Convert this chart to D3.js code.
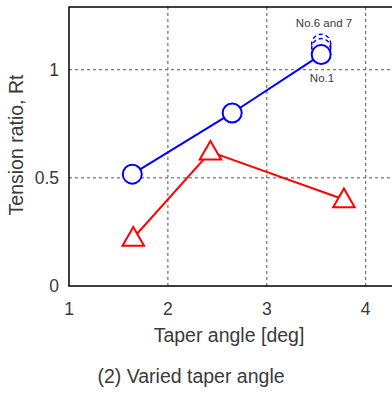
<!DOCTYPE html>
<html>
<head>
<meta charset="utf-8">
<script src="https://cdn.jsdelivr.net/npm/d3@7"></script>
<style>
  html, body { margin: 0; padding: 0; background: #fff; }
  svg { display: block; }
  text { font-family: "Liberation Sans", Arial, sans-serif; fill: #3a3a3a; }
</style>
</head>
<body>
<script>
// Data
const circleAngle = [1.64, 2.65, 3.55];
const circleRatio = [0.517, 0.80, 1.07];
const triAngle = [1.65, 2.43, 3.78];
const triRatio = [0.222, 0.62, 0.40];
// the dashed "No.6 and 7" circles sit just above No.1
const ghostAngle = [3.55, 3.55];
const ghostRatio = [1.12, 1.10];
const xTicks = [1, 2, 3, 4];
const yTicks = [0, 0.5, 1];
const yTickLabels = ["0", "0.5", "1"];

const width = 392, height = 393;
const plotLeft = 69, plotTop = 7, plotBottom = 286;

const x = d3.scaleLinear().domain([1, 4]).range([plotLeft, plotLeft + 3 * 98.9]);
const y = d3.scaleLinear().domain([0, 1.29]).range([plotBottom, plotTop]);

const svg = d3.select("body").append("svg")
  .attr("width", width)
  .attr("height", height);

// grid
const grid = svg.append("g")
  .attr("stroke", "#555")
  .attr("stroke-width", 1)
  .attr("stroke-dasharray", "3,3");
grid.selectAll("line.v")
  .data(xTicks.slice(1))
  .join("line")
  .attr("class", "v")
  .attr("x1", d => x(d)).attr("x2", d => x(d))
  .attr("y1", plotTop).attr("y2", plotBottom);
grid.selectAll("line.h")
  .data(yTicks.slice(1))
  .join("line")
  .attr("class", "h")
  .attr("x1", plotLeft).attr("x2", width)
  .attr("y1", d => y(d)).attr("y2", d => y(d));

// frame (left, top, bottom; right side runs off the picture)
svg.append("path")
  .attr("fill", "none")
  .attr("stroke", "#000")
  .attr("stroke-width", 1.5)
  .attr("d", `M${width + 2},${plotTop}H${plotLeft}V${plotBottom}H${width + 2}`);

// tick labels
svg.append("g").selectAll("text")
  .data(xTicks)
  .join("text")
  .attr("x", d => x(d))
  .attr("y", 315)
  .attr("text-anchor", "middle")
  .attr("font-size", 17.5)
  .text(d => d);
svg.append("g").selectAll("text")
  .data(yTicks)
  .join("text")
  .attr("x", 59)
  .attr("y", d => y(d) + 6)
  .attr("text-anchor", "end")
  .attr("font-size", 17.5)
  .text((d, i) => yTickLabels[i]);

// axis titles
svg.append("text")
  .attr("transform", "translate(23,145) rotate(-90)")
  .attr("text-anchor", "middle")
  .attr("font-size", 19.5)
  .text("Tension ratio, Rt");
svg.append("text")
  .attr("x", 229).attr("y", 342)
  .attr("text-anchor", "middle")
  .attr("font-size", 19.5)
  .text("Taper angle [deg]");
svg.append("text")
  .attr("x", 191).attr("y", 383)
  .attr("text-anchor", "middle")
  .attr("font-size", 19.5)
  .text("(2) Varied taper angle");

// red series: triangles
const triPts = triAngle.map((a, i) => [x(a), y(triRatio[i])]);
svg.append("path")
  .attr("fill", "none")
  .attr("stroke", "#f00")
  .attr("stroke-width", 2)
  .attr("d", d3.line()(triPts));
const triPath = d3.symbol().type(d3.symbolTriangle).size(200)();
svg.append("g").selectAll("path")
  .data(triPts)
  .join("path")
  .attr("transform", d => `translate(${d[0]},${d[1] + 1.5})`)
  .attr("d", triPath)
  .attr("fill", "#fff")
  .attr("stroke", "#f00")
  .attr("stroke-width", 2);

// blue series: circles
const circPts = circleAngle.map((a, i) => [x(a), y(circleRatio[i])]);
svg.append("path")
  .attr("fill", "none")
  .attr("stroke", "#00f")
  .attr("stroke-width", 2)
  .attr("d", d3.line()(circPts));
svg.append("g").selectAll("circle")
  .data(ghostAngle.map((a, i) => [x(a), y(ghostRatio[i])]))
  .join("circle")
  .attr("cx", d => d[0]).attr("cy", d => d[1])
  .attr("r", 9.5)
  .attr("fill", "none")
  .attr("stroke", "#00f")
  .attr("stroke-width", 1.5)
  .attr("stroke-dasharray", "4,3");
svg.append("g").selectAll("circle")
  .data(circPts)
  .join("circle")
  .attr("cx", d => d[0]).attr("cy", d => d[1])
  .attr("r", 9.5)
  .attr("fill", "#fff")
  .attr("stroke", "#00f")
  .attr("stroke-width", 2);

// annotations
svg.append("text")
  .attr("x", 324).attr("y", 27)
  .attr("text-anchor", "middle")
  .attr("font-size", 11.5)
  .text("No.6 and 7");
svg.append("text")
  .attr("x", 322).attr("y", 82)
  .attr("text-anchor", "middle")
  .attr("font-size", 11.5)
  .text("No.1");
</script>
</body>
</html>
